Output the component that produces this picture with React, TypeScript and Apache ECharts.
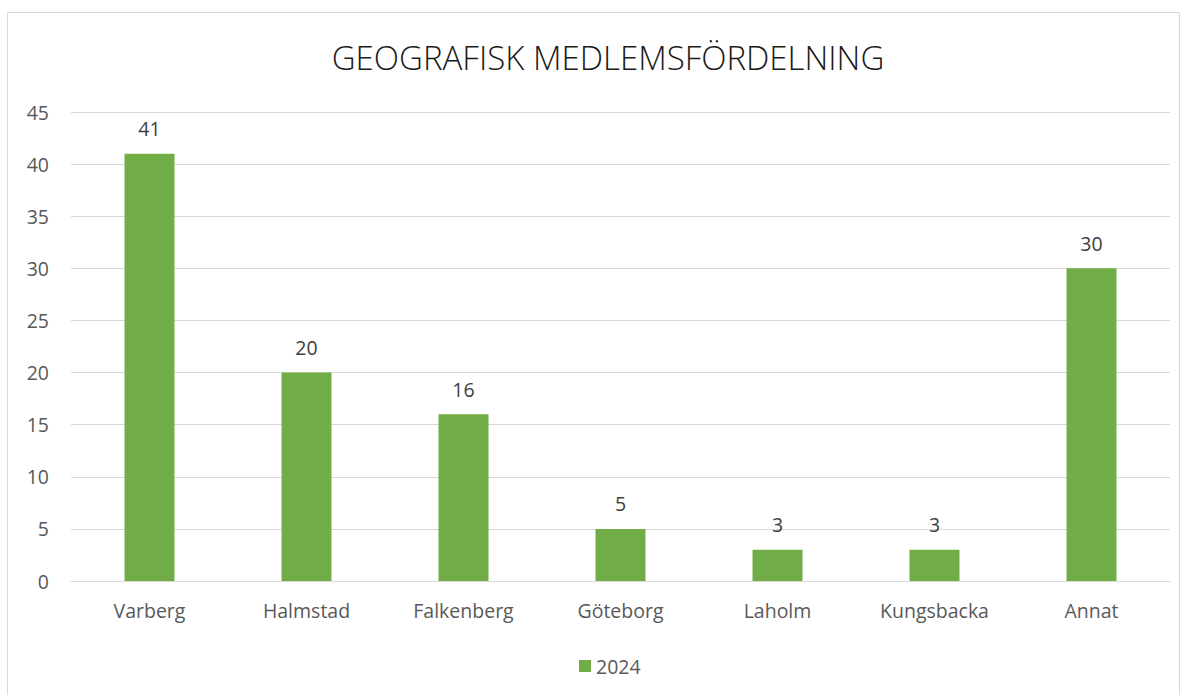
import React, { useEffect, useRef } from "react";
import * as echarts from "echarts";

const categories = ["Varberg", "Halmstad", "Falkenberg", "Göteborg", "Laholm", "Kungsbacka", "Annat"];
const values2024 = [41, 20, 16, 5, 3, 3, 30];
const seriesName = "2024";
const titleText = "GEOGRAFISK MEDLEMSFÖRDELNING";

const FONT = "'Open Sans', 'Noto Sans', sans-serif";

export default function App() {
  const ref = useRef<HTMLDivElement>(null);
  useEffect(() => {
    if (!ref.current) return;
    const chart = echarts.init(ref.current, undefined, { renderer: "svg" });
    chart.setOption({
      animation: false,
      backgroundColor: "#ffffff",
      title: {
        text: titleText,
        left: 603,
        textAlign: "center",
        top: 36,
        textStyle: { fontFamily: FONT, fontSize: 33, fontWeight: 300, color: "#1a1a1a" },
      },
      graphic: [
        {
          type: "rect",
          shape: { x: 7.5, y: 12.5, width: 1172, height: 700 },
          style: { fill: "none", stroke: "#d9d9d9", lineWidth: 1 },
          silent: true,
        },
      ],
      legend: {
        data: [seriesName],
        left: 574,
        top: 651,
        itemWidth: 12,
        itemHeight: 12,
        itemGap: 8,
        icon: "rect",
        textStyle: { fontFamily: FONT, fontSize: 19.5, color: "#595959" },
      },
      grid: { left: 71, right: 14, top: 112, bottom: 114 },
      xAxis: {
        type: "category",
        data: categories,
        axisTick: { show: false },
        axisLine: { lineStyle: { color: "#d9d9d9", width: 1 } },
        axisLabel: { fontFamily: FONT, fontSize: 19.5, color: "#595959", margin: 19 },
      },
      yAxis: {
        type: "value",
        min: 0,
        max: 45,
        interval: 5,
        axisLine: { show: false },
        axisTick: { show: false },
        splitLine: { lineStyle: { color: "#d9d9d9", width: 1 } },
        axisLabel: { fontFamily: FONT, fontSize: 19.5, color: "#595959", margin: 22 },
      },
      series: [
        {
          name: seriesName,
          type: "bar",
          data: values2024,
          barWidth: 50,
          itemStyle: { color: "#70ad47" },
          label: {
            show: true,
            position: "top",
            distance: 15,
            fontFamily: FONT,
            fontSize: 19.5,
            color: "#404040",
          },
        },
      ],
    });
    return () => chart.dispose();
  }, []);
  return <div ref={ref} style={{ position: "absolute", left: 0, top: 0, width: 1184, height: 695 }} />;
}
